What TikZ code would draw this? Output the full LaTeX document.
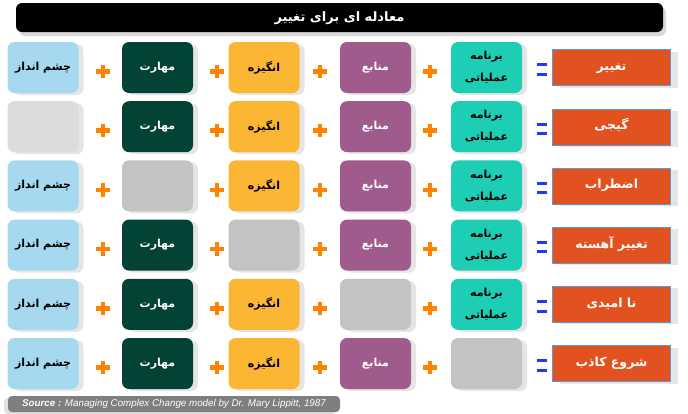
\documentclass[tikz,border=0pt]{standalone}
\usepackage{fontspec}
\setmainfont{Liberation Sans}
\newfontfamily\arabicfont[Script=Arabic]{DejaVu Sans}
\TeXXeTstate=1
\usetikzlibrary{shadows}
\definecolor{visionblue}{HTML}{A6D9EF}
\definecolor{skillgreen}{HTML}{024335}
\definecolor{incentyellow}{HTML}{FBB634}
\definecolor{resrcpurple}{HTML}{9F5B8C}
\definecolor{planteal}{HTML}{1DCDB4}
\definecolor{resorange}{HTML}{E25220}
\definecolor{resborder}{HTML}{5B9BD5}
\definecolor{gapgray}{HTML}{C3C3C3}
\definecolor{gaplight}{HTML}{DCDCDC}
\definecolor{plusorange}{HTML}{FF8200}
\definecolor{eqblue}{HTML}{1E3CF0}
\definecolor{srcgray}{HTML}{7F7F7F}
\newcommand{\fa}[1]{\beginR #1\endR}

\begin{document}
\begin{tikzpicture}[x=1pt,y=-1pt,
  box/.style={rounded corners=7pt,minimum width=71pt,minimum height=51pt,inner sep=2pt,
    align=center,font=\arabicfont\bfseries\fontsize{11}{22}\selectfont,
    drop shadow={shadow xshift=5pt,shadow yshift=-2pt,opacity=.2}},
  vision/.style={box,fill=visionblue,text=black},
  skill/.style={box,fill=skillgreen,text=white},
  incent/.style={box,fill=incentyellow,text=black},
  resrc/.style={box,fill=resrcpurple,text=white},
  plan/.style={box,fill=planteal,text=black},
  result/.style={draw=resborder,fill=resorange,text=white,minimum width=118pt,minimum height=36pt,
    text height=7pt,text depth=1pt,
    font=\arabicfont\bfseries\fontsize{12.5}{14}\selectfont,
    drop shadow={shadow xshift=7pt,shadow yshift=-2pt,opacity=.2}},
  plus/.style={minimum size=13pt,inner sep=0pt},
  equal/.style={minimum width=9pt,minimum height=9pt,inner sep=0pt}]
\useasboundingbox (0,0) rectangle (688,413);
\fill[white] (0,0) rectangle (688,413);
% title bar
\node[fill=black,rounded corners=6pt,minimum width=647pt,minimum height=29pt,text=white,
  text height=8pt,text depth=1pt,font=\arabicfont\bfseries\fontsize{13}{15}\selectfont,
  drop shadow={shadow xshift=3pt,shadow yshift=-4pt,opacity=.3}] (title) at (339.5,17.5) {\fa{معادله ای برای تغییر}};
% rows
\foreach \r/\gap/\res in {1/0/{تغییر},2/1/{گیجی},3/2/{اضطراب},4/3/{تغییر آهسته},5/4/{نا امیدی},6/5/{شروع کاذب}}{
  \pgfmathsetmacro\yy{67.5+59.2*(\r-1)}
  \ifnum\gap=1 \def\gapfill{gaplight}\else\def\gapfill{gapgray}\fi
  \foreach \c/\xx/\sty/\txt in {1/43/vision/{\fa{چشم انداز}},2/157.5/skill/{\fa{مهارت}},
      3/264/incent/{\fa{انگیزه}},4/375.5/resrc/{\fa{منابع}},5/486.5/plan/{\fa{برنامه}\\\fa{عملیاتی}}}{
    \ifnum\c=\gap
      \node[box,fill=\gapfill] (b\r-\c) at (\xx,\yy) {};
    \else
      \node[\sty] (b\r-\c) at (\xx,\yy) {\txt};
    \fi
  }
  \foreach \p/\xx in {1/103,2/217,3/320,4/430}{
    \node[plus] (p\r-\p) at (\xx,\yy+4) {};
    \draw[plusorange,line width=4.5pt] (p\r-\p.west) -- (p\r-\p.east) (p\r-\p.north) -- (p\r-\p.south);
  }
  \node[equal] (e\r) at (542,\yy+2) {};
  \draw[eqblue,line width=3pt] (e\r.north west) -- (e\r.north east) (e\r.south west) -- (e\r.south east);
  \node[result] (res\r) at (611.5,\yy) {\fa{\res}};
}
% source line
\node[fill=srcgray,rounded corners=4pt,minimum width=332pt,minimum height=16pt,inner sep=1pt,
  text=white,font=\fontsize{9.8}{11}\selectfont\itshape,
  drop shadow={shadow xshift=-4pt,shadow yshift=-2pt,opacity=.25}] (source) at (174,404)
  {\textbf{Source :} Managing Complex Change model by Dr. Mary Lippitt, 1987};
\end{tikzpicture}
\end{document}
